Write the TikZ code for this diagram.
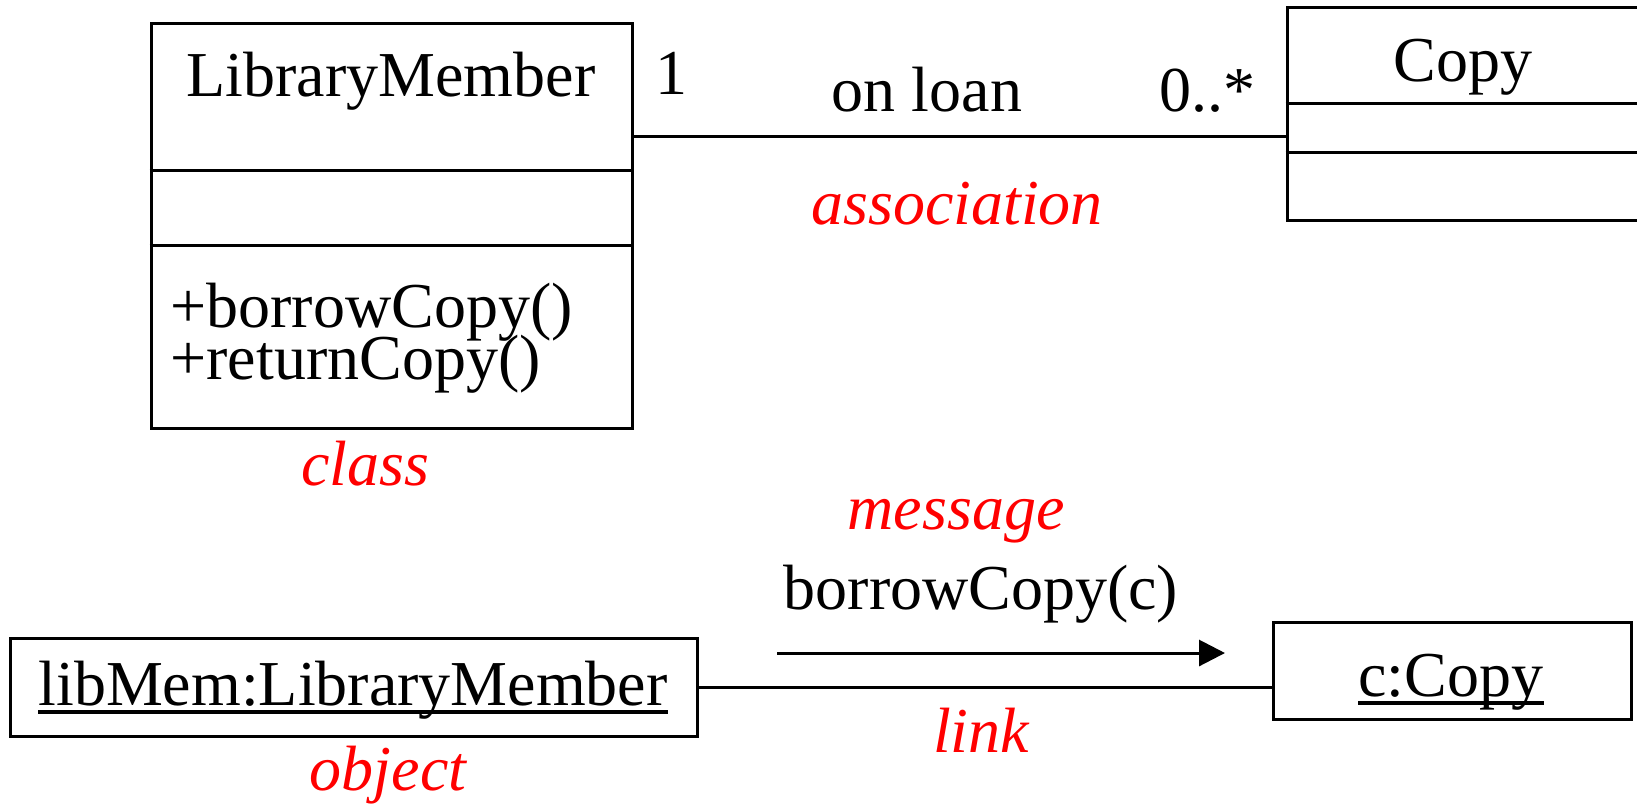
\documentclass[tikz,border=0pt]{standalone}
\usepackage{fontspec}
\setmainfont{Liberation Serif}
\usetikzlibrary{arrows.meta}
\tikzset{
  box/.style={draw, line width=1.5pt, rectangle, inner sep=0pt},
  txt/.style={anchor=base, inner sep=0pt, font=\fontsize{32}{38}\selectfont},
  lab/.style={txt, text=red, font=\fontsize{32}{38}\selectfont\itshape},
  conn/.style={line width=1.5pt},
  uline/.style={line width=1.6pt},
}
\begin{document}
\begin{tikzpicture}[x=0.5pt,y=-0.5pt]
\useasboundingbox (0,0) rectangle (1637,805);
\clip (0,0) rectangle (1637,805);
% class LibraryMember
\node[box, minimum width=240.5pt, minimum height=202.5pt] (lm) at (391.5,225.5) {};
\draw[conn] (lm.west |- 0,170) -- (lm.east |- 0,170);
\draw[conn] (lm.west |- 0,245) -- (lm.east |- 0,245);
\node[txt] (lmname) at (391,96) {LibraryMember};
\node[txt, anchor=base west] (op1) at (170,327) {+borrowCopy()};
\node[txt, anchor=base west] (op2) at (170,379) {+returnCopy()};
% class Copy
\node[box, minimum width=216.5pt, minimum height=106.5pt] (copy) at (1503.5,113.5) {};
\draw[conn] (copy.west |- 0,103) -- (copy.east |- 0,103);
\draw[conn] (copy.west |- 0,152) -- (copy.east |- 0,152);
\node[txt] (copyname) at (1463,81) {Copy};
% association
\draw[conn] (lm.east |- 0,136) -- (copy.west |- 0,136);
\node[txt] (m1) at (671,94) {1};
\node[txt] (onloan) at (927,111) {on loan};
\node[txt] (m2) at (1207,111) {0..*};
\node[lab] (assoc) at (957,224) {association};
\node[lab] (cls) at (365,485) {class};
% objects
\node[box, minimum width=343.5pt, minimum height=49pt] (obj) at (353.5,687) {};
\node[txt] (objname) at (353,705) {libMem:LibraryMember};
\draw[uline] ([yshift=-3.5pt]objname.base west) -- ([yshift=-3.5pt]objname.base east);
\node[box, minimum width=179pt, minimum height=48.5pt] (cc) at (1452,670.5) {};
\node[txt] (ccname) at (1451,696) {c:Copy};
\draw[uline] ([yshift=-3.5pt]ccname.base west) -- ([yshift=-3.5pt]ccname.base east);
\draw[conn] (obj.east) -- (cc.west |- obj.east);
% message
\coordinate (ms) at (777,653);
\coordinate (me) at (1225,653);
\draw[conn, -{Triangle[length=13pt,width=13pt]}] (ms) -- (me);
\node[lab] (msg) at (956,529) {message};
\node[txt] (bc) at (981,609) {borrowCopy(c)};
\node[lab] (link) at (981,752) {link};
\node[lab] (objl) at (388,790) {object};
\end{tikzpicture}
\end{document}
